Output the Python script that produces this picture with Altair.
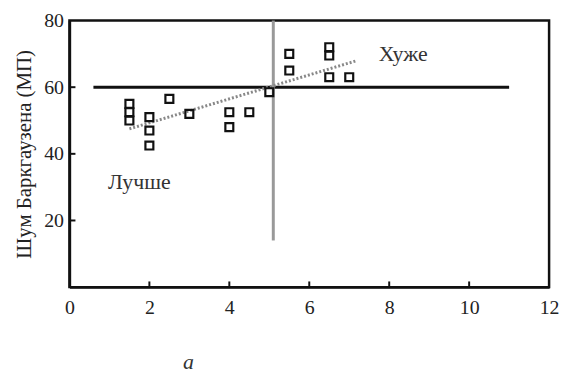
import altair as alt
import pandas as pd

# data points
pt_x = [1.5, 1.5, 1.5, 2, 2, 2, 2.5, 3, 4, 4, 4.5, 5, 5.5, 5.5, 6.5, 6.5, 6.5, 7]
pt_y = [55, 52.5, 50, 51, 47, 42.5, 56.5, 52, 52.5, 48, 52.5, 58.5, 70, 65, 72, 69.5, 63, 63]

# trend line (dotted)
trend_x = [1.5, 7.2]
trend_y = [47.5, 68]

# reference lines
h_line = {"x": 0.6, "x2": 11.0, "y": 60}
v_line = {"x": 5.1, "y": 14, "y2": 80}

x_ticks = [2, 4, 6, 8, 10]
y_ticks = [20, 40, 60]

labels = ["Лучше", "Хуже"]
label_x = [1.75, 8.35]
label_y = [31.5, 70]

FONT = "Liberation Serif"

xs = alt.Scale(domain=[0, 12], nice=False, zero=False)
ys = alt.Scale(domain=[0, 80], nice=False, zero=False)

pts = pd.DataFrame({"x": pt_x, "y": pt_y})
trend = pd.DataFrame({"x": trend_x, "y": trend_y})
hdf = pd.DataFrame([h_line])
vdf = pd.DataFrame([v_line])
xt = pd.DataFrame({"x": x_ticks, "y": [0] * len(x_ticks), "y2": [1.7] * len(x_ticks)})
yt = pd.DataFrame({"y": y_ticks, "x": [0] * len(y_ticks), "x2": [0.15] * len(y_ticks)})
lab = pd.DataFrame({"t": labels, "x": label_x, "y": label_y})

X_AXIS = alt.Axis(title=None, values=[0, 2, 4, 6, 8, 10, 12], labelPadding=11)
Y_AXIS = alt.Axis(title="Шум Баркгаузена (МП)", values=[20, 40, 60, 80], labelPadding=6,
                  titlePadding=9)


def ex():
    return alt.X("x:Q", scale=xs, axis=X_AXIS)


def ey():
    return alt.Y("y:Q", scale=ys, axis=Y_AXIS)


hline = alt.Chart(hdf).mark_rule(color="#111", strokeWidth=3).encode(
    x=ex(), x2="x2:Q", y=ey())
vline = alt.Chart(vdf).mark_rule(color="#999", strokeWidth=3).encode(
    x=ex(), y=ey(), y2="y2:Q")
tr = alt.Chart(trend).mark_line(color="#888", strokeWidth=3, strokeDash=[2, 2]).encode(
    x=ex(), y=ey())
sq = alt.Chart(pts).mark_point(shape="square", filled=False, color="#111", strokeWidth=2.2, size=64, opacity=1).encode(
    x=ex(), y=ey())
xtk = alt.Chart(xt).mark_rule(color="#111", strokeWidth=2).encode(
    x=ex(), y=ey(), y2="y2:Q")
ytk = alt.Chart(yt).mark_rule(color="#111", strokeWidth=2).encode(
    x=ex(), x2="x2:Q", y=ey())
txt = alt.Chart(lab).mark_text(font=FONT, fontSize=22, color="#333").encode(
    x=ex(), y=ey(), text="t:N")
sub = alt.Chart(pd.DataFrame({"t": ["а"]})).mark_text(
    font=FONT, fontSize=22, fontStyle="italic", color="#333", clip=False).encode(
    x=alt.value(120), y=alt.value(345), text="t:N")

chart = alt.layer(hline, vline, tr, sq, xtk, ytk, txt, sub).properties(
    width=484, height=269,
    autosize=alt.AutoSizeParams(type="none"),
    padding={"left": 62, "top": 11, "right": 10, "bottom": 85},
).configure_view(stroke="#111", strokeWidth=2.5
).configure_axis(
    ticks=False, grid=False, labelFlush=False,
    domain=True, domainColor="#111", domainWidth=2.5,
    labelFont=FONT, labelFontSize=20, labelColor="#222",
    titleFont=FONT, titleFontSize=21, titleFontWeight="normal", titleColor="#222"
).configure_text(font=FONT)

chart.save("out.html", embed_options={"renderer": "svg", "actions": False})
